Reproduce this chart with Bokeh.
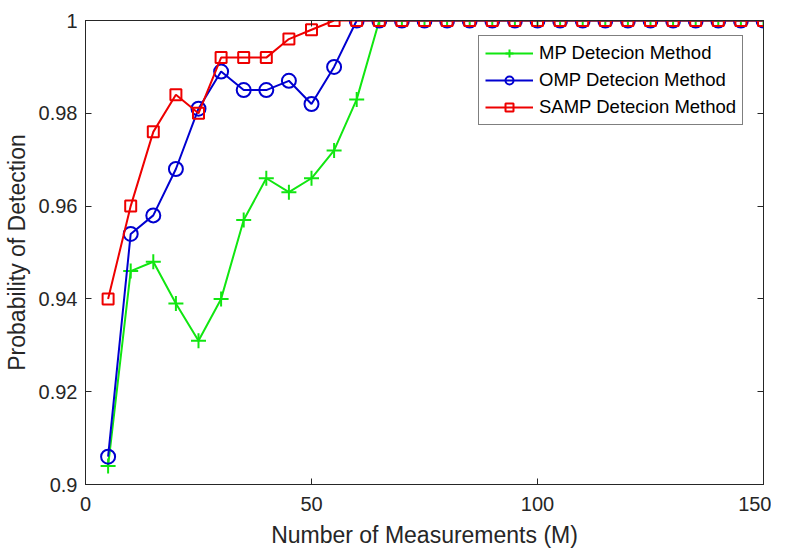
import numpy as np
from bokeh.plotting import figure
from bokeh.models import ColumnDataSource, LinearAxis, FixedTicker, Range1d, Legend, LegendItem
from bokeh.embed import file_html
from bokeh.resources import INLINE

measurements = list(range(5, 155, 5))
mp = [0.904, 0.946, 0.948, 0.939, 0.931, 0.940, 0.957, 0.966, 0.963, 0.966, 0.972, 0.983] + [1.0] * 18
omp = [0.906, 0.954, 0.958, 0.968, 0.981, 0.989, 0.985, 0.985, 0.987, 0.982, 0.990] + [1.0] * 19
samp = [0.940, 0.960, 0.976, 0.984, 0.980, 0.992, 0.992, 0.992, 0.996, 0.998] + [1.0] * 20

x_ticks = [0, 50, 100, 150]
y_ticks = [0.9, 0.92, 0.94, 0.96, 0.98, 1.0]
y_labels = ["0.9", "0.92", "0.94", "0.96", "0.98", "1"]

src = ColumnDataSource(data=dict(x=measurements, mp=mp, omp=omp, samp=samp))

axis_col = "#262626"
font = "Liberation Sans"

p = figure(frame_width=678, frame_height=464, output_backend="svg", toolbar_location=None,
           x_range=Range1d(0, 150), y_range=Range1d(0.9, 1.0),
           min_border_left=85, min_border_right=8, min_border_top=20, min_border_bottom=68,
           background_fill_color="white", border_fill_color="white")
p.grid.visible = False
p.outline_line_color = axis_col
p.outline_line_width = 1

p.xaxis.axis_label = "Number of Measurements (M)"
p.yaxis.axis_label = "Probability of Detection"
p.xaxis.ticker = FixedTicker(ticks=x_ticks)
p.yaxis.ticker = FixedTicker(ticks=y_ticks)
p.yaxis.major_label_overrides = dict(zip(y_ticks, y_labels))

for ax in [p.xaxis[0], p.yaxis[0]]:
    ax.axis_line_color = axis_col
    ax.major_tick_line_color = axis_col
    ax.major_tick_in = 6
    ax.major_tick_out = 0
    ax.minor_tick_line_color = None
    ax.major_label_text_font = font
    ax.major_label_text_font_size = "20px"
    ax.major_label_text_color = axis_col
    ax.axis_label_text_font = font
    ax.axis_label_text_font_style = "normal"
    ax.axis_label_text_color = axis_col
    ax.axis_label_text_font_size = "23px"
p.xaxis.major_label_standoff = 12
p.yaxis.major_label_standoff = 8
p.xaxis.axis_label_standoff = 8
p.yaxis.axis_label_standoff = 6

for loc, ticks in [("above", x_ticks), ("right", y_ticks)]:
    ax = LinearAxis(ticker=FixedTicker(ticks=ticks),
                    major_label_overrides={t: "" for t in ticks},
                    axis_line_color=axis_col, major_tick_line_color=axis_col,
                    major_tick_in=6, major_tick_out=0, minor_tick_line_color=None,
                    major_label_standoff=0)
    p.add_layout(ax, loc)

green = "#11e611"
blue = "#0000d0"
red = "#ee0000"

l1 = p.line("x", "mp", source=src, line_color=green, line_width=2)
m1 = p.scatter("x", "mp", source=src, marker="cross", size=15, line_color=green, line_width=2)
l2 = p.line("x", "omp", source=src, line_color=blue, line_width=2)
m2 = p.scatter("x", "omp", source=src, marker="circle", size=14, line_color=blue,
               fill_color=None, line_width=2)
l3 = p.line("x", "samp", source=src, line_color=red, line_width=2)
m3 = p.scatter("x", "samp", source=src, marker="square", size=11, line_color=red,
               fill_color=None, line_width=2)

legend = Legend(items=[
    LegendItem(label="MP Detecion Method", renderers=[l1, m1]),
    LegendItem(label="OMP Detecion Method", renderers=[l2, m2]),
    LegendItem(label="SAMP Detecion Method", renderers=[l3, m3]),
], location=(393, 359))
legend.border_line_color = "black"
legend.border_line_width = 1
legend.background_fill_alpha = 1
legend.label_text_font = font
legend.label_text_font_size = "18.5px"
legend.label_text_color = "black"
legend.glyph_width = 48
legend.glyph_height = 20
legend.spacing = 5
legend.padding = 6
legend.label_standoff = 6
legend.margin = 0
p.add_layout(legend, "center")

open("out.html", "w").write(file_html(p, INLINE))
